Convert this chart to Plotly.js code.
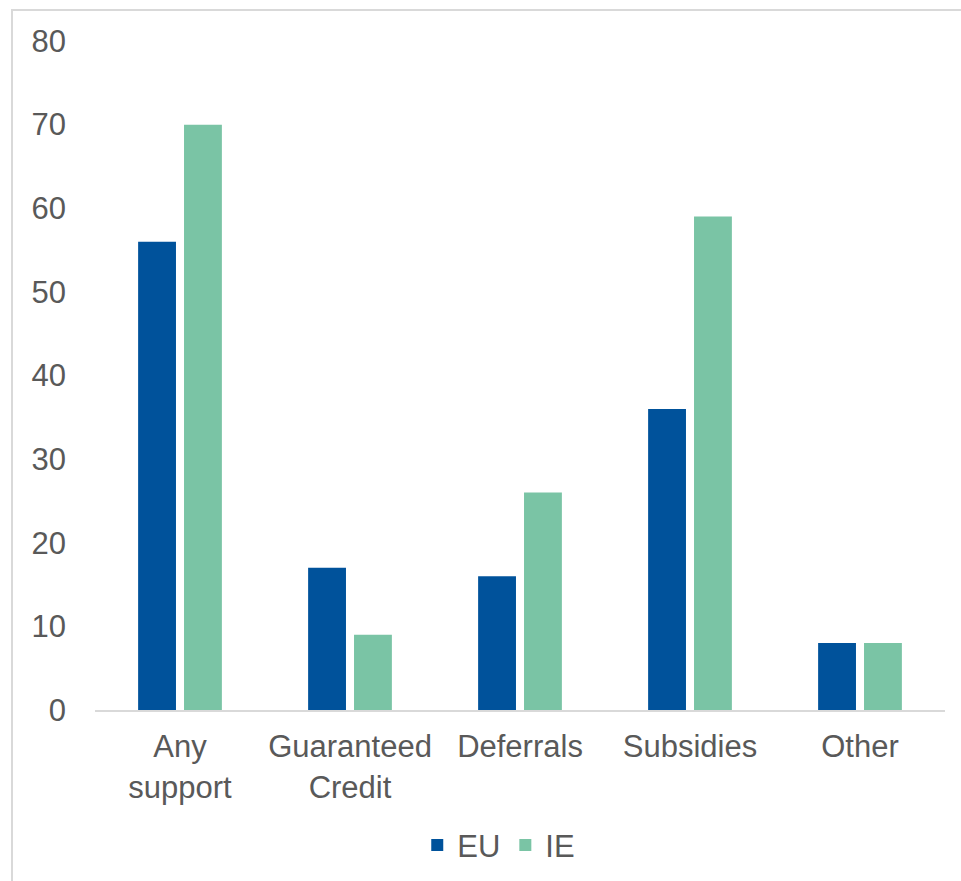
<!DOCTYPE html>
<html>
<head>
<meta charset="utf-8">
<script src="https://cdn.plot.ly/plotly-3.0.1.min.js"></script>
<style>
html,body{margin:0;padding:0;background:#fff;}
#frame{position:absolute;left:11px;top:9px;width:960px;height:880px;border-left:2px solid #d9d9d9;border-top:2px solid #d9d9d9;box-sizing:border-box;pointer-events:none;z-index:5;}
#chart{position:absolute;left:0;top:0;width:961px;height:881px;}
</style>
</head>
<body>
<div id="chart"></div>
<div id="frame"></div>
<script>
const categories = ["Any<br>support", "Guaranteed<br>Credit", "Deferrals", "Subsidies", "Other"];
const euValues = [56, 17, 16, 36, 8];
const ieValues = [70, 9, 26, 59, 8];
const yTicks = [0, 10, 20, 30, 40, 50, 60, 70, 80];

const font = {family: "Liberation Sans, Arial, sans-serif", size: 31, color: "#595959"};

const data = [
  {type: "bar", name: "EU", x: categories, y: euValues, marker: {color: "#00529b"}},
  {type: "bar", name: "IE", x: categories, y: ieValues, marker: {color: "#7ac4a5"}}
];

const layout = {
  width: 961, height: 881,
  margin: {l: 95, r: 16, t: 41, b: 171, autoexpand: false},
  paper_bgcolor: "#ffffff", plot_bgcolor: "#ffffff",
  font: font,
  barmode: "group", bargap: 0.46, bargroupgap: 0.175,
  showlegend: true,
  legend: {orientation: "h", x: 0.475, xanchor: "center", y: -0.162, yanchor: "top",
           font: {family: font.family, size: 31, color: "#595959"}, itemwidth: 30, traceorder: "normal"},
  xaxis: {type: "category", showgrid: false, showline: true, linecolor: "#d9d9d9", linewidth: 2,
          ticks: "", tickfont: font, ticklabelstandoff: 8, zeroline: false, automargin: false},
  yaxis: {range: [0, 80], tickvals: yTicks, showgrid: false, showline: false, zeroline: false,
          ticks: "", tickfont: font, ticklabelstandoff: 28, automargin: false}
};

Plotly.newPlot("chart", data, layout, {displayModeBar: false, staticPlot: true});
</script>
</body>
</html>
